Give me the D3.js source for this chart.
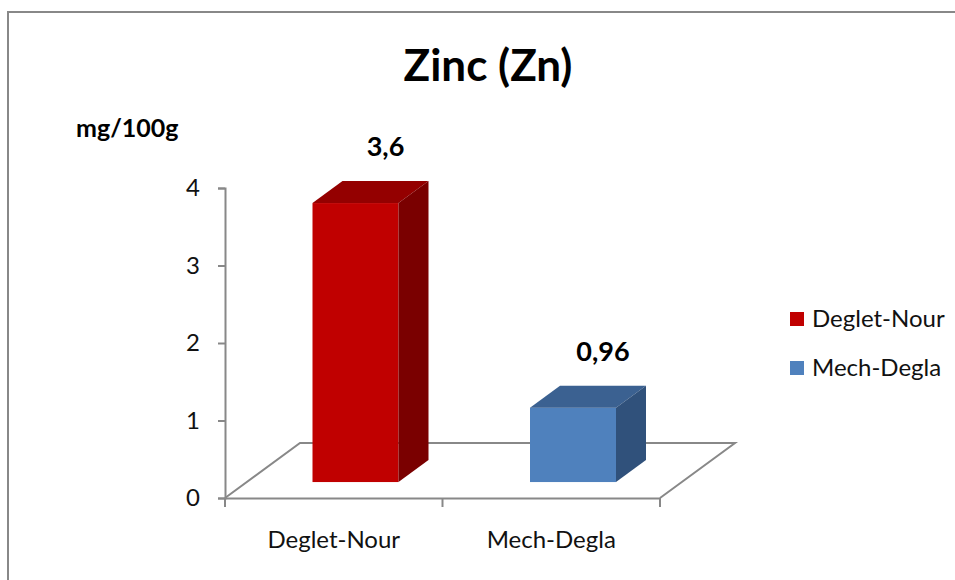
<!DOCTYPE html>
<html>
<head>
<meta charset="utf-8">
<script src="https://cdn.jsdelivr.net/npm/d3@7"></script>
<style>
  html, body { margin: 0; padding: 0; background: #fff; }
  svg { display: block; font-family: Lato, "Open Sans", sans-serif; }
</style>
</head>
<body>
<svg id="chart" width="955" height="580"></svg>
<script>
// Zinc content per date variety (mg/100g)
const categories = ["Deglet-Nour", "Mech-Degla"];
const values = [3.6, 0.96];
const valueLabels = ["3,6", "0,96"];
const yTicks = [0, 1, 2, 3, 4];
const frontColors = ["#C00000", "#4F81BD"];
const topColors = ["#940000", "#3B6191"];
const sideColors = ["#7A0000", "#30517B"];

const svg = d3.select("#chart");
const axisColor = "#888888";

// Outer frame
svg.append("path")
  .attr("d", "M8,580 V12 H955")
  .attr("fill", "none")
  .attr("stroke", axisColor)
  .attr("stroke-width", 2);

// Title and unit label
svg.append("text")
  .attr("x", 488).attr("y", 81)
  .attr("text-anchor", "middle")
  .attr("font-size", 44).attr("font-weight", "bold")
  .text("Zinc (Zn)");

svg.append("text")
  .attr("x", 76).attr("y", 137)
  .attr("font-size", 25).attr("font-weight", "bold")
  .text("mg/100g");

// Scales
const x = d3.scaleBand().domain(categories).range([225, 660]);
const y = d3.scaleLinear().domain([0, 4]).range([498, 188]);

// Depth of the floor and of the bars inside it
const depthX = 75, depthY = -55;
const barFront = 0.29, barBack = 0.69;
const barWidth = 86;

// Floor outline (front edge is the category axis)
const x0 = x.range()[0], x1 = x.range()[1], yb = y(0);
svg.append("path")
  .attr("d", `M${x0},${yb} L${x0 + depthX},${yb + depthY} L${x1 + depthX},${yb + depthY} L${x1},${yb}`)
  .attr("fill", "none")
  .attr("stroke", axisColor)
  .attr("stroke-width", 2);

// Value axis
const yAxis = svg.append("g")
  .attr("transform", `translate(${x0},0)`)
  .call(d3.axisLeft(y).tickValues(yTicks).tickSize(7).tickPadding(18).tickFormat(d3.format("d")));
yAxis.select(".domain").attr("stroke", axisColor).attr("stroke-width", 2);
yAxis.selectAll(".tick line").attr("stroke", axisColor).attr("stroke-width", 2);
yAxis.selectAll(".tick text").attr("font-size", 24).attr("fill", "#111")
  .attr("font-family", "Lato, sans-serif");

// Category axis
const xAxis = svg.append("g")
  .attr("transform", `translate(0,${yb})`)
  .call(d3.axisBottom(x).tickSize(0).tickPadding(33));
xAxis.select(".domain").attr("stroke", axisColor).attr("stroke-width", 2);
xAxis.selectAll(".tick text").attr("font-size", 24).attr("fill", "#111")
  .attr("font-family", "Lato, sans-serif");
const boundaries = [x0].concat(categories.map(c => x(c) + x.bandwidth()));
xAxis.selectAll("line.sep").data(boundaries).join("line")
  .attr("class", "sep")
  .attr("x1", d => d).attr("x2", d => d)
  .attr("y1", 0).attr("y2", 9)
  .attr("stroke", axisColor).attr("stroke-width", 2);

// 3D bars
const bars = svg.append("g");
categories.forEach((c, i) => {
  const cx = x(c) + x.bandwidth() / 2;
  const fx = cx + barFront * depthX - barWidth / 2;
  const fyOff = barFront * depthY;
  const dX = (barBack - barFront) * depthX;
  const dY = (barBack - barFront) * depthY;
  const top = y(values[i]) + fyOff;
  const bottom = y(0) + fyOff;
  const g = bars.append("g");
  // front face
  g.append("rect")
    .attr("x", fx).attr("y", top)
    .attr("width", barWidth).attr("height", bottom - top)
    .attr("fill", frontColors[i]);
  // top face
  g.append("path")
    .attr("d", `M${fx},${top} L${fx + dX},${top + dY} L${fx + barWidth + dX},${top + dY} L${fx + barWidth},${top} Z`)
    .attr("fill", topColors[i]);
  // side face
  g.append("path")
    .attr("d", `M${fx + barWidth},${top} L${fx + barWidth + dX},${top + dY} L${fx + barWidth + dX},${bottom + dY} L${fx + barWidth},${bottom} Z`)
    .attr("fill", sideColors[i]);
  // value label above the bar
  g.append("text")
    .attr("x", fx + dX + barWidth / 2)
    .attr("y", top + dY - 25)
    .attr("text-anchor", "middle")
    .attr("font-size", 27).attr("font-weight", "bold")
    .text(valueLabels[i]);
});

// Legend
const legend = svg.append("g").attr("transform", "translate(790,312)");
categories.forEach((c, i) => {
  const row = legend.append("g").attr("transform", `translate(0,${i * 49})`);
  row.append("rect").attr("width", 14).attr("height", 14).attr("fill", frontColors[i]);
  row.append("text").attr("x", 22).attr("y", 15)
    .attr("font-size", 24).attr("fill", "#111")
    .text(c);
});
</script>
</body>
</html>
